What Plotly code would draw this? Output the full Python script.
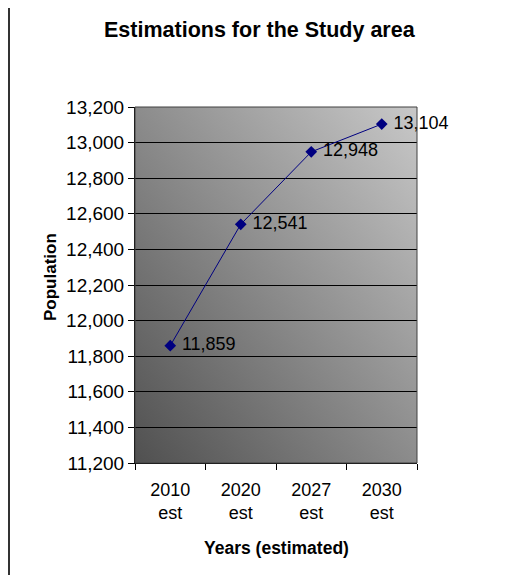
import base64
import plotly.graph_objects as go

# ---- data ----
categories = ["2010<br>est", "2020<br>est", "2027<br>est", "2030<br>est"]
population = [11859, 12541, 12948, 13104]
point_labels = ["11,859", "12,541", "12,948", "13,104"]
y_ticks = list(range(11200, 13201, 200))

# ---- layout geometry (page has an 8px body margin) ----
OFF = 8
W, H = 511 - OFF, 575 - OFF
ML, MR, MT, MB = 135 - OFF, 94, 107 - OFF, 112
PW = W - ML - MR
PH = H - MT - MB


def px_x(page_x):
    return (page_x - OFF - ML) / PW


def px_y(page_y):
    return 1 - (page_y - OFF - MT) / PH


svg = (
    '<svg xmlns="http://www.w3.org/2000/svg" width="100" height="100" '
    'viewBox="0 0 100 100" preserveAspectRatio="none">'
    '<defs><linearGradient id="g" x1="0" y1="1" x2="1" y2="0">'
    '<stop offset="0" stop-color="#505050"/>'
    '<stop offset="1" stop-color="#c8c8c8"/>'
    '</linearGradient></defs>'
    '<rect x="0" y="0" width="100" height="100" fill="url(#g)"/></svg>'
)
svg_uri = "data:image/svg+xml;base64," + base64.b64encode(svg.encode()).decode()

FONT = "Liberation Sans, Arial, sans-serif"

fig = go.Figure()
fig.add_trace(go.Scatter(
    x=categories,
    y=population,
    mode="lines+markers+text",
    text=["\u00a0" + t for t in point_labels],
    textposition="middle right",
    textfont=dict(family=FONT, size=18, color="#000000"),
    line=dict(color="#000080", width=1),
    marker=dict(symbol="diamond", size=9, color="#000080"),
    cliponaxis=False,
    showlegend=False,
))

fig.update_layout(
    width=W, height=H,
    margin=dict(l=ML, r=MR, t=MT, b=MB, autoexpand=False),
    paper_bgcolor="white",
    plot_bgcolor="rgba(0,0,0,0)",
    font=dict(family=FONT, size=18, color="#000000"),
    images=[dict(
        source=svg_uri, xref="paper", yref="paper",
        x=0, y=1, sizex=1, sizey=1, sizing="stretch",
        xanchor="left", yanchor="top", layer="below",
    )],
    xaxis=dict(
        type="category",
        tickson="boundaries",
        ticks="outside", ticklen=6, tickcolor="#000000", tickwidth=1,
        ticklabelstandoff=10,
        showline=True, linecolor="#000000", linewidth=1,
        showgrid=False, zeroline=False,
        tickfont=dict(family=FONT, size=18),
        range=[-0.5, 3.5],
    ),
    yaxis=dict(
        range=[11200, 13200],
        tickvals=y_ticks,
        tickformat=",",
        ticks="outside", ticklen=6, tickcolor="#000000", tickwidth=1,
        showline=True, linecolor="#000000", linewidth=1,
        showgrid=True, gridcolor="#000000", gridwidth=1,
        zeroline=False,
        tickfont=dict(family=FONT, size=19),
    ),
    shapes=[
        dict(type="rect", xref="paper", yref="paper", x0=0, y0=0, x1=1, y1=1,
             line=dict(color="#404040", width=1), layer="above"),
        dict(type="line", xref="paper", yref="paper",
             x0=px_x(OFF + 1), x1=px_x(OFF + 1),
             y0=px_y(H + OFF + 5), y1=px_y(0),
             line=dict(color="#333333", width=2)),
    ],
    annotations=[
        dict(text="<b>Estimations for the Study area</b>", xref="paper", yref="paper",
             x=px_x(260), y=px_y(30), xanchor="center", yanchor="middle",
             showarrow=False, font=dict(family=FONT, size=21.5)),
        dict(text="<b>Population</b>", xref="paper", yref="paper",
             x=px_x(50), y=px_y(277), xanchor="center", yanchor="middle",
             textangle=-90, showarrow=False, font=dict(family=FONT, size=17)),
        dict(text="<b>Years (estimated)</b>", xref="paper", yref="paper",
             x=px_x(276), y=px_y(548), xanchor="center", yanchor="middle",
             showarrow=False, font=dict(family=FONT, size=17.5)),
    ],
)

fig.write_html("out.html")
